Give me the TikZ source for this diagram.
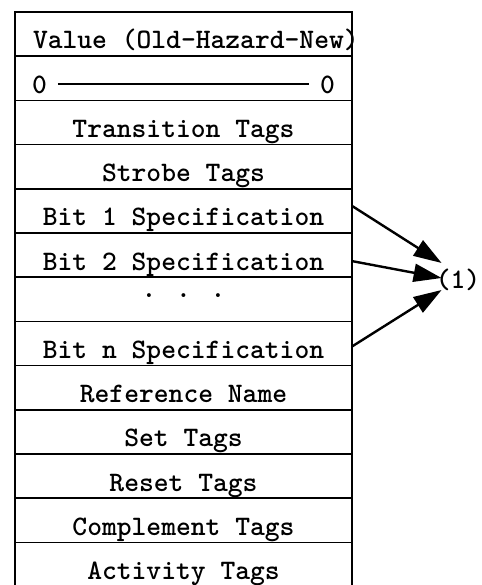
\documentclass[tikz,border=0pt]{standalone}
\usepackage{tikz}
\usetikzlibrary{arrows.meta,positioning}

\newcommand{\zeroline}{\leaders\hrule height 10pt depth -8pt\hfill}

\begin{document}
\begin{tikzpicture}[x=1pt, y=-1pt,
  field/.style={draw, line width=1.6pt, outer sep=0pt, minimum width=337pt, minimum height=44.2pt, inner sep=0pt,
    text height=37pt, text depth=7.2pt, font=\fontsize{28.2}{30}\selectfont\ttfamily\bfseries},
  arrow/.style={-{Triangle[length=28pt,width=18pt]}, line width=2.4pt},
  node distance=0pt
]
  \useasboundingbox (0,0) rectangle (481,585);
  \clip (0,0) rectangle (481,585);
  \node[field, anchor=north] (val) at (183.5,12) {\makebox[337pt][l]{\hspace*{18pt}Value (Old-Hazard-New)}};
  \node[field, below=of val] (zero) {\makebox[303pt]{0\hspace{11pt}\zeroline\hspace{11pt}0}};
  \node[field, below=of zero] (trans) {Transition Tags};
  \node[field, below=of trans] (strobe) {Strobe Tags};
  \node[field, below=of strobe] (bit1) {Bit 1 Specification};
  \node[field, below=of bit1] (bit2) {Bit 2 Specification};
  \node[field, below=of bit2] (dots) {\raisebox{17pt}{. . .}};
  \node[field, below=of dots] (bitn) {Bit n Specification};
  \node[field, below=of bitn] (ref) {Reference Name};
  \node[field, below=of ref] (set) {Set Tags};
  \node[field, below=of set] (reset) {Reset Tags};
  \node[field, below=of reset] (compl) {Complement Tags};
  \node[field, below=of compl] (act) {Activity Tags};
  \node[inner sep=0pt, font=\fontsize{28.2}{30}\selectfont\ttfamily\bfseries] (one) at (458,280) {(1)};
  \foreach \a/\y/\t in {bit1/5/17, bit2/-6/2, bitn/-3/-10}
    \draw[arrow] ([yshift=\y pt]\a.east) -- ([shift={(6pt,\t pt)}]one.west);
\end{tikzpicture}
\end{document}
